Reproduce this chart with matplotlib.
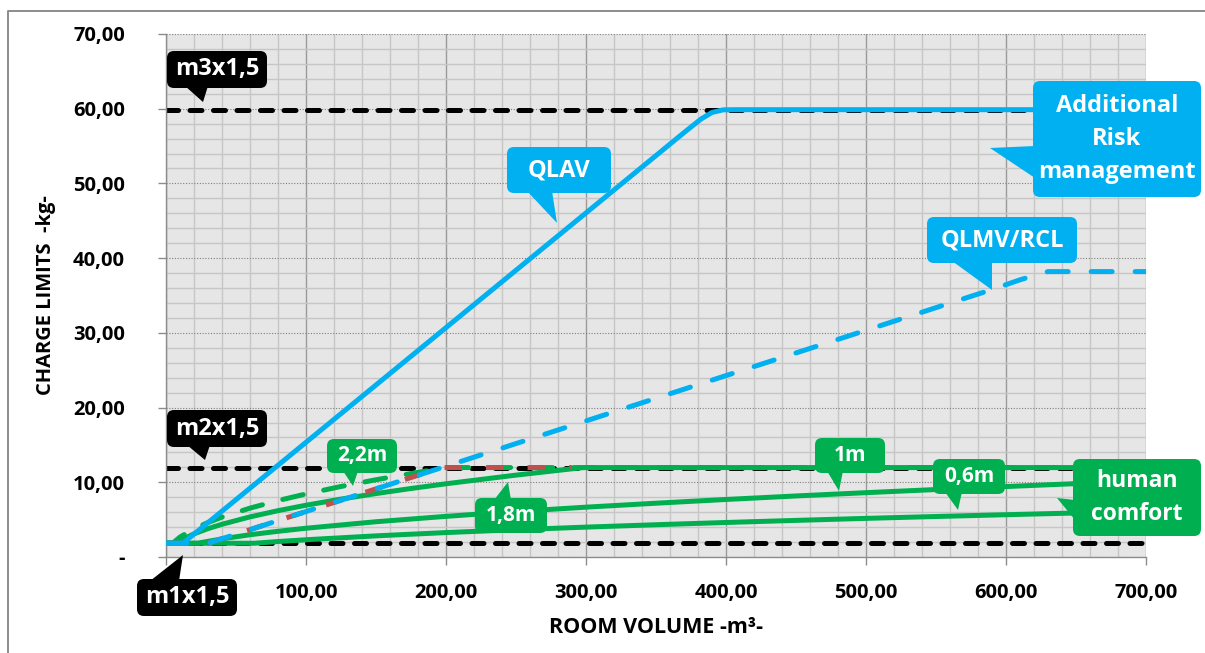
import matplotlib
matplotlib.use('Agg')
import matplotlib.pyplot as plt
from matplotlib.patches import FancyBboxPatch, Polygon
from matplotlib.ticker import MultipleLocator, FixedLocator, FixedFormatter

plt.rcParams['font.family'] = ['Open Sans', 'DejaVu Sans']
plt.rcParams['font.weight'] = 'bold'

# ---------------- data ----------------
x_ticks = [0, 100, 200, 300, 400, 500, 600, 700]
x_tick_labels = ['', '100,00', '200,00', '300,00', '400,00', '500,00', '600,00', '700,00']
y_ticks = [0, 10, 20, 30, 40, 50, 60, 70]
y_tick_labels = ['-', '10,00', '20,00', '30,00', '40,00', '50,00', '60,00', '70,00']

limit_span = [0, 700]
m1x15 = 1.84
m2x15 = 11.97
m3x15 = 59.87

qlav_volume = [0, 12, 370, 382, 390, 398, 408, 700]
qlav_charge = [1.84, 1.84, 56.8, 58.6, 59.5, 59.85, 59.87, 59.87]

qlmv_volume = [0, 30, 590, 610, 630, 700]
qlmv_charge = [1.84, 1.84, 35.8, 37.1, 38.2, 38.2]

red_volume = [0, 30, 197, 290]
red_charge = [1.84, 1.84, 11.97, 11.97]

h22_volume = [0, 5, 10, 20, 30, 40, 60, 80, 100, 125, 150, 175, 200, 700]
h22_charge = [1.84, 1.89, 2.67, 3.77, 4.62, 5.34, 6.54, 7.55, 8.44, 9.44, 10.34, 11.17, 11.97, 11.97]

h18_volume = [0, 7, 10, 20, 30, 40, 60, 80, 100, 125, 150, 175, 200, 250, 298, 700]
h18_charge = [1.84, 1.84, 2.19, 3.10, 3.80, 4.38, 5.37, 6.20, 6.93, 7.75, 8.49, 9.17, 9.80, 10.96, 11.97, 11.97]

h10_volume = [0, 23, 25, 40, 60, 80, 100, 150, 200, 250, 300, 350, 400, 450, 500, 550, 600, 650, 700]
h10_charge = [1.84, 1.84, 1.93, 2.43, 2.98, 3.44, 3.85, 4.72, 5.44, 6.09, 6.67, 7.20, 7.70, 8.17, 8.61, 9.03, 9.43, 9.82, 10.19]

h06_volume = [0, 63, 80, 100, 150, 200, 250, 300, 350, 400, 450, 500, 550, 600, 650, 700]
h06_charge = [1.84, 1.84, 2.07, 2.31, 2.83, 3.27, 3.65, 4.00, 4.32, 4.62, 4.90, 5.17, 5.42, 5.66, 5.89, 6.11]

# ---------------- style ----------------
BLUE = '#00B0F0'
GREEN = '#00B050'
RED = '#C0504D'
BLACK = '#000000'
LW = 3.6

W, H = 1205, 653
fig = plt.figure(figsize=(W / 100, H / 100), dpi=100)
fig.patch.set_facecolor('white')

ax_l, ax_r, ax_t, ax_b = 166, 1146, 34, 557
ax = fig.add_axes([ax_l / W, 1 - ax_b / H, (ax_r - ax_l) / W, (ax_b - ax_t) / H])
ax.set_facecolor('#E6E6E6')
ax.set_xlim(0, 700)
ax.set_ylim(0, 70)

ax.xaxis.set_major_locator(FixedLocator(x_ticks))
ax.xaxis.set_major_formatter(FixedFormatter(x_tick_labels))
ax.yaxis.set_major_locator(FixedLocator(y_ticks))
ax.yaxis.set_major_formatter(FixedFormatter(y_tick_labels))
ax.xaxis.set_minor_locator(MultipleLocator(20))
ax.yaxis.set_minor_locator(MultipleLocator(2))

ax.grid(which='minor', axis='both', color='#C6C6C6', lw=1.0, zorder=0)
ax.grid(which='major', axis='x', color='#9A9A9A', lw=1.0, zorder=0)
ax.grid(which='major', axis='y', color='#7F7F7F', lw=0.8, ls=(0, (1, 1.5)), zorder=0)
ax.set_axisbelow(True)

for s in ['top', 'right']:
    ax.spines[s].set_visible(False)
for s in ['left', 'bottom']:
    ax.spines[s].set_color('#8C8C8C')
    ax.spines[s].set_linewidth(1.0)

ax.tick_params(which='major', direction='out', length=5.5, width=1, color='#8C8C8C',
               labelsize=14.5, labelcolor='black')
ax.tick_params(which='minor', length=0)
ax.tick_params(axis='y', pad=24)
ax.tick_params(axis='x', pad=13)
for lab in ax.get_xticklabels() + ax.get_yticklabels():
    lab.set_fontweight('bold')

ax.set_xlabel('ROOM VOLUME -m³-', fontsize=15.5, fontweight='bold', labelpad=10)
ax.set_ylabel('CHARGE LIMITS  -kg-', fontsize=14.5, fontweight='bold', labelpad=12)

# black dashed limits
for level in (m1x15, m2x15, m3x15):
    ax.plot(limit_span, [level, level], color=BLACK, lw=LW, dashes=(2.4, 2.3),
            dash_capstyle='round', zorder=2)

# green human comfort lines
for vol, chg in ((h06_volume, h06_charge), (h10_volume, h10_charge), (h18_volume, h18_charge)):
    ax.plot(vol, chg, color=GREEN, lw=LW, solid_capstyle='round', solid_joinstyle='round', zorder=3)
ax.plot(h22_volume, h22_charge, color=GREEN, lw=LW, dashes=(4.2, 4.2),
        dash_capstyle='round', zorder=3)

# red dashed
ax.plot(red_volume, red_charge, color=RED, lw=LW, dashes=(3.5, 4.8), zorder=4)

# QLMV dashed blue
ax.plot(qlmv_volume, qlmv_charge, color=BLUE, lw=LW, dashes=(4.2, 4.6),
        dash_capstyle='round', zorder=5)

# QLAV solid blue
ax.plot(qlav_volume, qlav_charge, color=BLUE, lw=LW, solid_capstyle='round',
        solid_joinstyle='round', zorder=6)

# ---------------- overlay: callouts and border ----------------
ov = fig.add_axes([0, 0, 1, 1], zorder=10)
ov.set_xlim(0, W)
ov.set_ylim(H, 0)
ov.axis('off')
ov.patch.set_alpha(0)

ov.plot([8, 8, W], [H, 11, 11], color='#8C8C8C', lw=1.4, solid_capstyle='butt')

callouts = [
    ('m3x1,5', (167, 51, 267, 88), [(185, 86), (203, 102), (208, 86)], BLACK, 17, 1.2),
    ('m2x1,5', (167, 410, 267, 447), [(187, 445), (205, 460), (210, 445)], BLACK, 17, 1.2),
    ('m1x1,5', (137, 579, 237, 616), [(150, 581), (183, 555), (179, 581)], BLACK, 17, 1.2),
    ('QLAV', (507, 147, 611, 193), [(527, 191), (557, 223), (552, 191)], BLUE, 17, 1.2),
    ('Additional\nRisk\nmanagement', (1033, 81, 1201, 197), [(1035, 146), (990, 148), (1035, 178)], BLUE, 17, 1.5),
    ('QLMV/RCL', (927, 217, 1077, 263), [(952, 261), (992, 290), (992, 261)], BLUE, 17, 1.2),
    ('2,2m', (327, 439, 397, 473), [(343, 471), (353, 486), (358, 471)], GREEN, 15, 1.2),
    ('1,8m', (475, 498, 547, 533), [(494, 500), (508, 482), (511, 500)], GREEN, 15, 1.2),
    ('1m', (815, 438, 885, 473), [(827, 471), (839, 491), (843, 471)], GREEN, 15, 1.2),
    ('0,6m', (933, 459, 1005, 494), [(945, 492), (958, 510), (962, 492)], GREEN, 15, 1.2),
    ('human\ncomfort', (1073, 459, 1201, 536), [(1075, 500), (1057, 498), (1075, 520)], GREEN, 16.5, 1.45),
]

for text, (x0, y0, x1, y1), ptr, col, fs, lsp in callouts:
    box = FancyBboxPatch((x0, y0), x1 - x0, y1 - y0,
                         boxstyle='round,pad=0,rounding_size=7',
                         facecolor=col, edgecolor='none', zorder=11)
    ov.add_patch(box)
    ov.add_patch(Polygon(ptr, closed=True, facecolor=col, edgecolor='none', zorder=11))
    ov.text((x0 + x1) / 2, (y0 + y1) / 2, text, color='white', fontsize=fs,
            fontweight='bold', ha='center', va='center', linespacing=lsp, zorder=12)

fig.savefig('out.png', dpi=100, facecolor='white')
